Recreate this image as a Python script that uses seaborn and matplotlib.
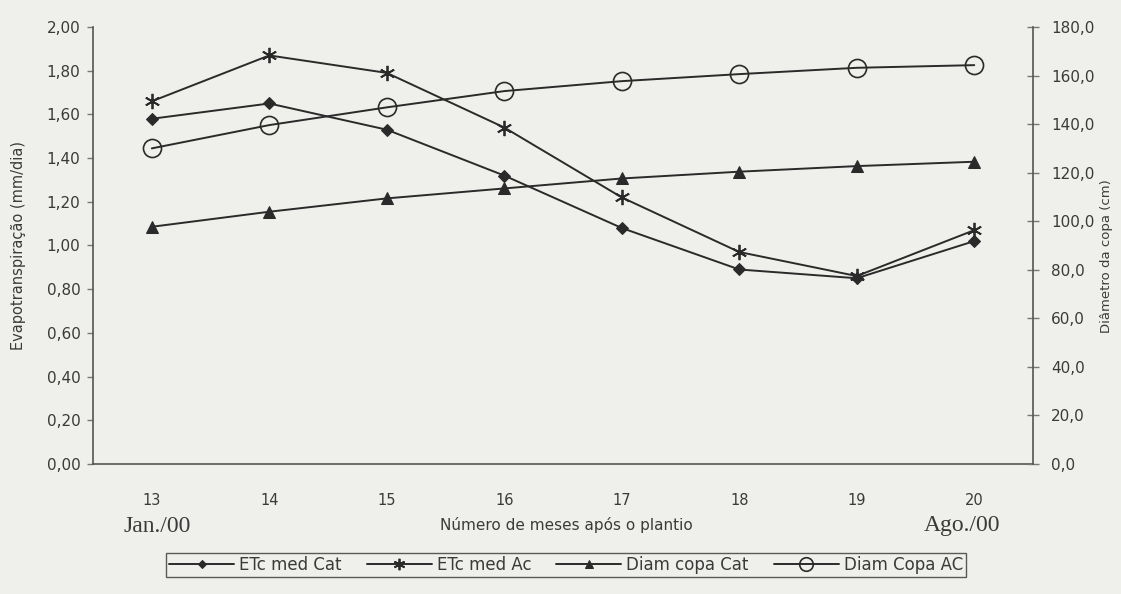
import numpy as np
import pandas as pd
import matplotlib
matplotlib.use("Agg")
import matplotlib.pyplot as plt
import seaborn as sns

months = ["13", "14", "15", "16", "17", "18", "19", "20"]
etc_cat = [1.58, 1.65, 1.53, 1.32, 1.08, 0.89, 0.85, 1.02]
etc_ac = [1.66, 1.87, 1.79, 1.54, 1.22, 0.97, 0.86, 1.07]
diam_cat = [97.7, 103.9, 109.4, 113.5, 117.6, 120.4, 122.7, 124.5]
diam_ac = [130.0, 139.6, 146.9, 153.6, 157.7, 160.6, 163.2, 164.3]
left_ticks = [0.0, 0.2, 0.4, 0.6, 0.8, 1.0, 1.2, 1.4, 1.6, 1.8, 2.0]
right_ticks = [0, 20, 40, 60, 80, 100, 120, 140, 160, 180]

sns.set_theme(style="white")
plt.rcParams['font.family'] = ['DejaVu Sans']

bg = "#efefeb"
ink = "#2a2a2a"
txt = "#3a3a3a"

fig = plt.figure(figsize=(11.21, 5.94), dpi=100, facecolor=bg)
ax = fig.add_axes([0.083, 0.219, 0.8385, 0.7355])
ax.set_facecolor(bg)
ax2 = ax.twinx()

pos = np.arange(len(months))
df = pd.DataFrame({"pos": pos, "etc_cat": etc_cat, "etc_ac": etc_ac,
                   "diam_cat": diam_cat, "diam_ac": diam_ac})

star = (6, 2, 0)
sns.lineplot(data=df, x="pos", y="etc_cat", ax=ax, color=ink, lw=1.4,
             marker="D", markersize=6, markerfacecolor=ink, markeredgecolor=ink,
             label="ETc med Cat", legend=False)
sns.lineplot(data=df, x="pos", y="etc_ac", ax=ax, color=ink, lw=1.4,
             marker=star, markersize=11, markeredgewidth=1.3, markeredgecolor=ink,
             label="ETc med Ac", legend=False)
sns.lineplot(data=df, x="pos", y="diam_cat", ax=ax2, color=ink, lw=1.4,
             marker="^", markersize=8, markerfacecolor=ink, markeredgecolor=ink,
             label="Diam copa Cat", legend=False)
sns.lineplot(data=df, x="pos", y="diam_ac", ax=ax2, color=ink, lw=1.4,
             marker="o", markersize=13, markerfacecolor="none", markeredgecolor=ink,
             markeredgewidth=1.2, label="Diam Copa AC", legend=False)

for a in (ax, ax2):
    a.set_xlim(-0.5, len(months) - 0.5)
    for s in a.spines.values():
        s.set_visible(False)

ax.set_ylim(0, 2.0)
ax2.set_ylim(0, 180)
ax.spines['left'].set_visible(True)
ax.spines['bottom'].set_visible(True)
ax2.spines['right'].set_visible(True)
for s in (ax.spines['left'], ax.spines['bottom'], ax2.spines['right']):
    s.set_color("#555555")
    s.set_linewidth(1.2)

ax.set_yticks(left_ticks)
ax.set_yticklabels([f"{v:.2f}".replace(".", ",") for v in left_ticks])
ax2.set_yticks(right_ticks)
ax2.set_yticklabels([f"{v:.1f}".replace(".", ",") for v in right_ticks])

ax.set_xticks(np.arange(len(months) + 1) - 0.5)
ax.set_xticklabels([])
ax.set_xticks(pos, minor=True)
ax.set_xticklabels(months, minor=True)
ax.tick_params(axis="x", which="major", direction="inout", length=8, width=1, color="#555555")
ax.tick_params(axis="x", which="minor", length=0, pad=21, labelsize=10.5, labelcolor=txt)
ax.tick_params(axis="y", direction="out", length=4, width=1, color="#777777",
               labelsize=11, labelcolor=txt, left=True, pad=5)
ax2.tick_params(axis="y", direction="inout", length=8, width=1, color="#777777",
                labelsize=11, labelcolor=txt, right=True, pad=9)

ax.set_xlabel("")
ax2.set_xlabel("")
ax.set_ylabel("Evapotranspiração (mm/dia)", fontsize=10.5, color=txt)
ax2.set_ylabel("Diâmetro da copa (cm)", fontsize=9.5, color=txt)
ax.yaxis.set_label_coords(-0.071, 0.5)
ax2.yaxis.set_label_coords(1.071, 0.475)

fig.text(157 / 1121, 1 - 526 / 594, "Jan./00", family="Liberation Serif", fontsize=17,
         color=txt, ha="center", va="center")
fig.text(962 / 1121, 1 - 526 / 594, "Ago./00", family="Liberation Serif", fontsize=17,
         color=txt, ha="center", va="center")
fig.text(566 / 1121, 1 - 525 / 594, "Número de meses após o plantio", fontsize=11,
         color=txt, ha="center", va="center")

h1, l1 = ax.get_legend_handles_labels()
h2, l2 = ax2.get_legend_handles_labels()
leg = fig.legend(h1 + h2, l1 + l2, loc="center", bbox_to_anchor=(566 / 1121, 1 - 565 / 594),
                 ncol=4, frameon=True, fancybox=False, edgecolor="#333333", facecolor=bg,
                 fontsize=12, handlelength=3.9, handletextpad=0.3, columnspacing=1.5,
                 borderpad=0.2, borderaxespad=0, markerscale=0.75)
leg.get_frame().set_linewidth(1.0)
for t in leg.get_texts():
    t.set_color(txt)

fig.savefig("out.png", dpi=100, facecolor=bg)
